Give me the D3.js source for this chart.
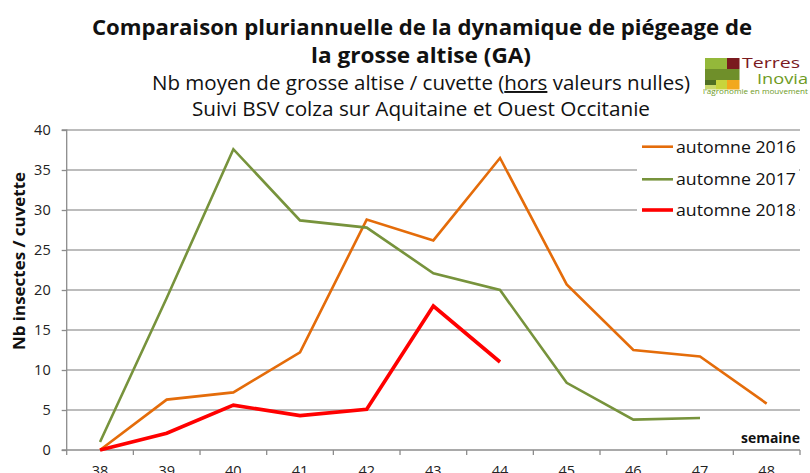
<!DOCTYPE html>
<html><head><meta charset="utf-8">
<script src="https://cdn.jsdelivr.net/npm/d3@7"></script>
<style>html,body{margin:0;padding:0;background:#fff;overflow:hidden}svg{display:block;font-family:"Open Sans",sans-serif}</style>
</head><body>
<svg id="c" width="810" height="473"></svg>
<script>
const weeks = [38,39,40,41,42,43,44,45,46,47,48];
const s2016 = [0,6.3,7.2,12.2,28.8,26.2,36.5,20.7,12.5,11.7,5.8];
const s2017 = [1,19,37.6,28.7,27.8,22.1,20,8.4,3.8,4.0,null];
const s2018 = [0,2.1,5.6,4.3,5.1,18,11,null,null,null,null];
const seriesNames = ["automne 2016","automne 2017","automne 2018"];
const yTicks = [0,5,10,15,20,25,30,35,40];

const colors = ["#E46C0A","#77933C","#FF0000"];
const widths = [2.6,2.6,3.6];
const svg = d3.select("#c");
const L=66.7, R=800, T=130, B=450;
const x = d3.scaleBand().domain(weeks).range([L,R]);
const y = d3.scaleLinear().domain([0,40]).range([B,T]);
const cx = w => x(w)+x.bandwidth()/2;

// gridlines
svg.append("g").selectAll("line").data(yTicks.filter(d=>d>0)).join("line")
 .attr("x1",L).attr("x2",R).attr("y1",d=>y(d)).attr("y2",d=>y(d))
 .attr("stroke","#A6A6A6").attr("stroke-width",1.3);

// y axis
const ya = svg.append("g").attr("transform",`translate(${L},0)`)
 .call(d3.axisLeft(y).tickValues(yTicks).tickSize(5).tickPadding(11));
ya.select(".domain").attr("stroke","#8C8C8C").attr("stroke-width",1.3).attr("d",`M-5,${T}H0V${B}`);
ya.selectAll(".tick line").attr("stroke","#8C8C8C").attr("stroke-width",1.3);
ya.selectAll("text").attr("font-size",14.5).attr("fill","#222").attr("font-family","Open Sans");

// x axis
const xa = svg.append("g").attr("transform",`translate(0,${B})`);
xa.append("line").attr("x1",L-5).attr("x2",R).attr("y1",0).attr("y2",0).attr("stroke","#8C8C8C").attr("stroke-width",1.3);
const bounds = weeks.map(w=>x(w)).concat([R]);
xa.selectAll("line.tk").data(bounds).join("line").attr("class","tk")
 .attr("x1",d=>d).attr("x2",d=>d).attr("y1",0).attr("y2",5).attr("stroke","#8C8C8C").attr("stroke-width",1.3);
xa.selectAll("text").data(weeks).join("text")
 .attr("x",d=>cx(d)).attr("y",26).attr("text-anchor","middle").attr("font-size",14.5).attr("fill","#222").text(d=>d);

// lines
[s2016,s2017,s2018].forEach((s,i)=>{
  const line = d3.line().defined(d=>d.v!=null).x(d=>cx(d.w)).y(d=>y(d.v));
  svg.append("path").datum(weeks.map((w,j)=>({w,v:s[j]})))
   .attr("d",line).attr("fill","none").attr("stroke",colors[i]).attr("stroke-width",widths[i])
   .attr("stroke-linejoin","miter").attr("stroke-linecap","butt");
});

// legend
svg.append("rect").attr("x",637).attr("y",133).attr("width",162).attr("height",94).attr("fill","#fff");
const lg = svg.append("g");
[146.7,179.3,210].forEach((ry,i)=>{
  lg.append("line").attr("x1",642).attr("x2",673).attr("y1",ry).attr("y2",ry).attr("stroke",colors[i]).attr("stroke-width",widths[i]);
  lg.append("text").attr("x",676).attr("y",ry+6).attr("font-size",16.5).attr("fill","#111").text(seriesNames[i])
   .attr("textLength",120).attr("lengthAdjust","spacingAndGlyphs");
});

// semaine
svg.append("text").attr("x",800).attr("y",443).attr("text-anchor","end").attr("font-size",13.5).attr("font-weight","bold").attr("fill","#111").text("semaine")
 .attr("textLength",59).attr("lengthAdjust","spacingAndGlyphs");

// y title
svg.append("text").attr("transform","translate(25,261) rotate(-90)").attr("text-anchor","middle")
 .attr("font-size",16.5).attr("font-weight","bold").attr("fill","#111").text("Nb insectes / cuvette")
 .attr("textLength",178).attr("lengthAdjust","spacingAndGlyphs");

// titles
svg.append("text").attr("x",422).attr("y",35).attr("text-anchor","middle").attr("font-size",21).attr("font-weight","bold").attr("fill","#111")
 .text("Comparaison pluriannuelle de la dynamique de piégeage de").attr("textLength",660).attr("lengthAdjust","spacingAndGlyphs");
svg.append("text").attr("x",421).attr("y",63).attr("text-anchor","middle").attr("font-size",21).attr("font-weight","bold").attr("fill","#111")
 .text("la grosse altise (GA)").attr("textLength",220).attr("lengthAdjust","spacingAndGlyphs");
const st = svg.append("text").attr("x",421).attr("y",90).attr("text-anchor","middle").attr("font-size",19.5).attr("fill","#111")
 .attr("textLength",538).attr("lengthAdjust","spacingAndGlyphs");
st.append("tspan").text("Nb moyen de grosse altise / cuvette (");
st.append("tspan").attr("text-decoration","underline").text("hors");
st.append("tspan").text(" valeurs nulles)");
svg.append("text").attr("x",421).attr("y",116).attr("text-anchor","middle").attr("font-size",19.5).attr("fill","#111")
 .text("Suivi BSV colza sur Aquitaine et Ouest Occitanie").attr("textLength",458).attr("lengthAdjust","spacingAndGlyphs");

// logo
const lgo = svg.append("g");
const blocks = [
 [705,58,22,11,"#94B83A"],[727,58,12.5,11,"#7A1A1E"],
 [705,69,34.5,11,"#6F8F2A"],
 [705,80,11,5,"#4F6F22"],[705,85,11,4.5,"#C9D86A"],[716,80,11,9.5,"#C8D43C"],[727,80,12.5,9.5,"#F2A81D"]
];
lgo.selectAll("rect").data(blocks).join("rect").attr("x",d=>d[0]).attr("y",d=>d[1]).attr("width",d=>d[2]).attr("height",d=>d[3]).attr("fill",d=>d[4]);
lgo.append("text").attr("x",742).attr("y",68).attr("font-size",14).attr("fill","#7A1A1E").text("Terres").attr("textLength",58).attr("lengthAdjust","spacingAndGlyphs");
lgo.append("text").attr("x",757).attr("y",84).attr("font-size",14).attr("fill","#6E9A1E").text("Inovia").attr("textLength",51).attr("lengthAdjust","spacingAndGlyphs");
lgo.append("text").attr("x",703).attr("y",94).attr("font-size",7).attr("fill","#6E9A1E").text("l'agronomie en mouvement").attr("textLength",105).attr("lengthAdjust","spacingAndGlyphs");
</script>
</body></html>
